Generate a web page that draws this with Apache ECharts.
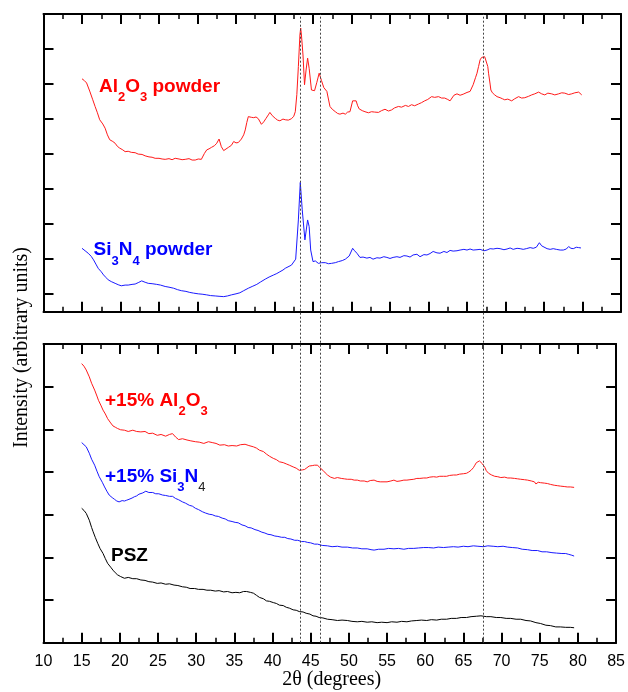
<!DOCTYPE html>
<html>
<head>
<meta charset="utf-8">
<script src="https://cdn.jsdelivr.net/npm/echarts@6/dist/echarts.min.js"></script>
<style>html,body{margin:0;padding:0;background:#fff}#c{width:628px;height:692px}</style>
</head>
<body>
<div id="c"></div>
<script>
// ---------- data (2θ in degrees, intensity in arbitrary units) ----------
const xTicks = [10,15,20,25,30,35,40,45,50,55,60,65,70,75,80,85];
const peakLines = [43.4, 45.9, 67.1];

const alPowderX = [15.0,15.3,15.6,16.0,16.4,16.7,17.0,17.3,17.7,18.0,18.3,18.6,19.0,19.3,19.6,19.9,20.3,20.6,21.0,21.4,21.9,22.3,22.8,23.2,23.7,24.1,24.5,25.0,25.4,25.8,26.3,26.7,27.1,27.6,28.0,28.4,28.9,29.3,29.7,30.1,30.5,30.9,31.2,31.5,31.8,32.2,32.5,32.8,33.1,33.4,33.6,34.0,34.4,34.7,35.0,35.3,35.7,36.0,36.2,36.4,36.6,37.0,37.3,37.6,37.9,38.3,38.6,38.9,39.2,39.4,39.7,40.1,40.4,40.7,41.1,41.4,41.8,42.2,42.5,42.7,42.9,43.1,43.3,43.4,43.5,43.7,43.9,44.1,44.3,44.5,44.8,45.2,45.5,45.8,46.1,46.4,46.8,47.2,47.5,47.9,48.2,48.5,48.9,49.2,49.5,49.8,50.0,50.15,50.6,50.8,51.0,51.4,51.75,52.2,52.6,53.0,53.5,53.9,54.35,54.8,55.2,55.6,56.1,56.5,57.0,57.4,57.8,58.2,58.7,59.1,59.5,59.9,60.4,60.8,61.3,61.7,62.1,62.5,62.8,63.0,63.3,63.7,64.1,64.5,65.0,65.4,65.8,66.1,66.3,66.5,66.7,66.9,67.1,67.3,67.5,67.7,67.8,68.0,68.1,68.3,68.6,68.9,69.3,69.6,69.9,70.3,70.8,71.2,71.7,72.1,72.5,73.0,73.4,73.8,74.3,74.7,75.1,75.5,76.0,76.4,76.9,77.3,77.7,78.2,78.6,79.0,79.5,79.9];
const alPowderY = [6.65,6.60,6.53,6.30,6.05,5.86,5.68,5.48,5.36,5.24,5.05,4.91,4.86,4.81,4.72,4.67,4.62,4.57,4.58,4.55,4.54,4.50,4.49,4.45,4.42,4.41,4.38,4.38,4.36,4.35,4.37,4.34,4.38,4.36,4.34,4.35,4.37,4.33,4.33,4.36,4.35,4.52,4.62,4.65,4.69,4.74,4.81,4.93,4.71,4.60,4.55,4.69,4.75,4.86,4.82,4.83,4.93,5.05,5.19,5.40,5.57,5.55,5.54,5.56,5.51,5.35,5.42,5.52,5.62,5.69,5.60,5.52,5.47,5.45,5.50,5.48,5.47,5.51,5.58,5.71,6.20,7.00,7.90,8.10,7.90,7.33,6.48,6.90,7.24,6.95,6.33,6.31,6.55,6.81,6.60,6.40,6.29,5.86,5.78,5.71,5.66,5.64,5.67,5.64,5.70,5.71,5.75,6.02,6.02,5.88,5.79,5.74,5.71,5.68,5.71,5.70,5.69,5.74,5.78,5.73,5.76,5.82,5.86,5.84,5.89,5.86,5.91,5.88,5.93,5.97,6.02,6.06,6.14,6.12,6.14,6.10,6.10,6.06,6.02,6.00,6.18,6.22,6.18,6.21,6.26,6.29,6.48,6.68,6.81,7.00,7.19,7.26,7.29,7.28,7.24,7.00,6.81,6.50,6.33,6.25,6.19,6.14,6.11,6.08,6.05,6.07,6.02,6.08,6.14,6.10,6.11,6.15,6.19,6.22,6.27,6.22,6.19,6.24,6.22,6.19,6.22,6.25,6.24,6.20,6.22,6.25,6.27,6.19];

const siPowderX = [15.0,15.4,15.8,16.2,16.5,16.8,17.1,17.5,17.8,18.1,18.4,18.8,19.3,19.7,20.1,20.6,21.0,21.5,21.9,22.3,22.75,23.2,23.6,24.1,24.7,25.2,25.8,26.3,26.9,27.4,27.9,28.5,29.0,29.5,30.1,30.6,31.2,31.7,32.3,32.8,33.4,33.9,34.4,35.0,35.5,36.0,36.6,37.1,37.7,38.2,38.8,39.3,39.9,40.3,40.7,41.1,41.4,41.6,42.2,42.75,43.1,43.35,43.6,43.95,44.3,44.5,44.7,45.0,45.3,45.7,46.1,46.6,47.0,47.4,47.9,48.3,48.8,49.2,49.7,50.15,50.4,50.7,51.1,51.5,52.0,52.4,52.8,53.3,53.7,54.2,54.6,55.0,55.4,55.9,56.3,56.8,57.2,57.6,58.0,58.5,58.9,59.4,59.8,60.2,60.6,61.1,61.5,62.0,62.4,62.8,63.2,63.7,64.1,64.6,65.0,65.4,65.8,66.3,66.7,67.2,67.6,68.0,68.4,68.9,69.3,69.8,70.2,70.6,71.0,71.5,71.9,72.3,72.7,73.2,73.6,74.0,74.4,74.7,74.9,75.4,75.8,76.2,76.6,77.1,77.5,77.9,78.2,78.5,78.8,79.2,79.5,79.8];
const siPowderY = [1.81,1.74,1.67,1.58,1.48,1.36,1.24,1.14,1.05,0.98,0.91,0.86,0.81,0.77,0.74,0.76,0.76,0.78,0.79,0.83,0.88,0.84,0.81,0.80,0.78,0.76,0.72,0.70,0.67,0.63,0.60,0.58,0.55,0.53,0.51,0.50,0.48,0.46,0.45,0.44,0.43,0.45,0.48,0.51,0.54,0.60,0.67,0.72,0.78,0.85,0.93,0.99,1.05,1.09,1.14,1.19,1.24,1.24,1.33,1.50,2.62,3.69,2.91,2.05,2.62,2.43,1.76,1.43,1.45,1.38,1.40,1.40,1.37,1.38,1.40,1.43,1.46,1.50,1.59,1.81,1.74,1.67,1.55,1.56,1.53,1.55,1.50,1.54,1.53,1.57,1.55,1.52,1.55,1.57,1.55,1.60,1.59,1.56,1.62,1.64,1.57,1.63,1.62,1.66,1.72,1.68,1.67,1.72,1.69,1.75,1.73,1.74,1.76,1.78,1.76,1.79,1.76,1.77,1.78,1.74,1.76,1.80,1.79,1.81,1.80,1.77,1.79,1.82,1.78,1.81,1.80,1.78,1.80,1.83,1.81,1.84,1.97,1.88,1.83,1.80,1.78,1.80,1.78,1.76,1.76,1.79,1.86,1.81,1.80,1.84,1.83,1.82];

const al15X = [15.0,15.3,15.6,16.0,16.3,16.7,17.0,17.2,17.5,17.8,18.1,18.4,18.8,19.1,19.4,19.7,20.1,20.6,21.1,21.7,22.2,22.75,23.3,23.8,24.3,24.9,25.4,26.0,26.5,26.9,27.3,27.7,28.2,28.8,29.3,29.9,30.4,31.0,31.6,32.1,32.6,33.1,33.7,34.2,34.7,35.3,35.8,36.4,36.9,37.5,37.9,38.3,38.8,39.2,39.6,40.1,40.5,40.9,41.4,41.8,42.2,42.7,43.1,43.5,43.9,44.2,44.5,44.8,45.2,45.5,45.9,46.2,46.6,46.9,47.2,47.6,48.1,48.5,49.0,49.4,49.8,50.3,50.7,51.1,51.5,52.0,52.4,52.8,53.3,53.7,54.1,54.6,55.0,55.5,55.9,56.3,56.7,57.2,57.6,58.0,58.5,58.9,59.3,59.8,60.2,60.6,61.1,61.5,61.9,62.4,62.8,63.2,63.7,64.1,64.5,65.0,65.4,65.7,66.0,66.3,66.5,66.7,66.9,67.1,67.3,67.5,67.8,68.0,68.3,68.7,69.1,69.5,69.9,70.4,70.8,71.2,71.7,72.1,72.5,73.0,73.4,73.9,74.3,74.5,74.8,75.1,75.6,76.0,76.4,76.9,77.3,77.7,78.2,78.6,79.0,79.5];
const al15Y = [6.54,6.48,6.39,6.23,6.08,5.92,5.78,5.68,5.57,5.45,5.36,5.25,5.15,5.08,5.05,5.02,4.99,4.98,4.95,4.98,4.95,4.94,4.95,4.90,4.91,4.86,4.88,4.84,4.88,4.90,4.82,4.76,4.78,4.75,4.73,4.71,4.70,4.67,4.71,4.69,4.67,4.63,4.64,4.61,4.62,4.61,4.64,4.65,4.62,4.59,4.56,4.51,4.48,4.42,4.37,4.32,4.29,4.24,4.22,4.19,4.16,4.12,4.09,4.04,4.05,4.06,4.10,4.14,4.15,4.16,4.16,4.10,4.04,3.98,3.93,3.88,3.85,3.87,3.85,3.84,3.83,3.83,3.81,3.81,3.79,3.79,3.77,3.80,3.81,3.78,3.77,3.77,3.77,3.79,3.81,3.78,3.79,3.81,3.81,3.82,3.83,3.85,3.85,3.86,3.86,3.88,3.89,3.88,3.90,3.90,3.90,3.92,3.93,3.93,3.95,3.96,3.97,4.00,4.04,4.10,4.16,4.22,4.26,4.26,4.24,4.19,4.11,4.03,3.97,3.93,3.90,3.89,3.87,3.88,3.86,3.86,3.85,3.84,3.83,3.82,3.81,3.79,3.77,3.72,3.76,3.75,3.74,3.73,3.71,3.69,3.68,3.67,3.66,3.65,3.65,3.64];

const si15X = [15.0,15.3,15.6,16.0,16.3,16.7,17.0,17.3,17.7,18.0,18.3,18.6,19.0,19.3,19.6,19.9,20.3,20.6,20.9,21.2,21.6,21.9,22.2,22.5,23.0,23.4,23.8,24.3,24.7,25.1,25.6,26.0,26.5,26.9,27.3,27.7,28.2,28.6,29.1,29.5,29.9,30.3,30.8,31.2,31.7,32.1,32.5,32.9,33.4,33.8,34.2,34.7,35.1,35.5,36.0,36.4,36.8,37.2,37.7,38.1,38.6,39.0,39.4,39.8,40.3,40.7,41.2,41.6,42.0,42.4,42.9,43.3,43.8,44.2,44.6,45.0,45.5,45.9,46.5,47.2,47.8,48.5,49.1,49.8,50.5,51.1,51.7,52.4,52.9,53.3,53.9,54.6,55.2,55.9,56.5,57.2,57.8,58.5,59.1,59.8,60.4,61.1,61.7,62.4,63.0,63.7,64.3,65.0,65.6,66.3,66.9,67.6,68.2,68.9,69.5,70.2,70.8,71.4,72.1,72.7,73.4,74.0,74.7,75.3,75.9,76.6,77.2,77.9,78.4,78.8,79.2,79.5];
const si15Y = [4.69,4.64,4.59,4.44,4.30,4.16,4.02,3.89,3.76,3.65,3.55,3.46,3.40,3.36,3.32,3.30,3.33,3.32,3.34,3.36,3.39,3.42,3.44,3.48,3.51,3.55,3.52,3.52,3.49,3.49,3.46,3.45,3.43,3.43,3.38,3.35,3.30,3.27,3.22,3.20,3.15,3.12,3.07,3.04,3.01,3.00,2.97,2.96,2.92,2.90,2.86,2.84,2.82,2.81,2.76,2.74,2.70,2.69,2.65,2.63,2.59,2.57,2.54,2.53,2.50,2.49,2.47,2.47,2.44,2.43,2.40,2.40,2.37,2.37,2.35,2.34,2.31,2.31,2.28,2.27,2.25,2.26,2.24,2.24,2.22,2.22,2.20,2.20,2.18,2.17,2.19,2.19,2.21,2.20,2.21,2.19,2.21,2.21,2.22,2.23,2.23,2.22,2.24,2.23,2.24,2.25,2.24,2.26,2.25,2.27,2.26,2.25,2.27,2.26,2.25,2.26,2.24,2.23,2.22,2.19,2.18,2.16,2.16,2.13,2.13,2.11,2.10,2.09,2.09,2.07,2.05,2.03];

const pszX = [15.0,15.3,15.6,16.0,16.3,16.5,16.8,17.1,17.4,17.8,18.1,18.4,18.8,19.1,19.4,19.7,20.1,20.6,21.1,21.7,22.2,22.75,23.3,23.8,24.3,24.9,25.4,26.0,26.5,27.1,27.6,28.2,28.7,29.2,29.8,30.3,30.9,31.4,31.9,32.5,33.0,33.6,34.1,34.7,35.2,35.7,36.2,36.6,37.1,37.5,37.9,38.3,38.8,39.2,39.6,40.1,40.5,40.9,41.4,41.8,42.2,42.7,43.1,43.5,44.0,44.4,44.9,45.3,45.7,46.1,46.6,47.2,47.8,48.5,49.1,49.8,50.4,51.1,51.7,52.4,53.0,53.7,54.3,55.0,55.6,56.3,56.9,57.6,58.2,58.9,59.5,60.2,60.8,61.5,62.1,62.8,63.4,64.1,64.7,65.4,66.0,66.7,67.3,68.0,68.6,69.3,69.9,70.6,71.2,71.9,72.5,73.2,73.8,74.5,75.1,75.8,76.4,77.1,77.7,78.4,79.0,79.5];
const pszY = [3.15,3.10,3.03,2.87,2.70,2.60,2.46,2.33,2.21,2.09,1.97,1.86,1.77,1.70,1.64,1.59,1.55,1.51,1.53,1.50,1.50,1.47,1.46,1.43,1.42,1.39,1.40,1.37,1.38,1.35,1.34,1.31,1.30,1.27,1.27,1.25,1.25,1.23,1.23,1.21,1.22,1.19,1.20,1.17,1.18,1.17,1.20,1.20,1.18,1.16,1.11,1.06,1.03,0.98,0.97,0.94,0.92,0.88,0.87,0.83,0.81,0.77,0.76,0.73,0.72,0.69,0.67,0.63,0.62,0.59,0.58,0.55,0.54,0.52,0.53,0.52,0.50,0.49,0.50,0.48,0.49,0.47,0.48,0.47,0.49,0.48,0.50,0.49,0.51,0.52,0.53,0.52,0.54,0.53,0.55,0.55,0.57,0.57,0.59,0.59,0.61,0.62,0.63,0.61,0.61,0.59,0.59,0.57,0.57,0.55,0.55,0.52,0.51,0.47,0.45,0.41,0.40,0.37,0.37,0.36,0.36,0.35];

// ---------- helpers ----------
const zip = (xs, ys) => xs.map((x, i) => [x, ys[i]]);
const BLACK = '#000';
const RED = '#ff1a1a';
const BLUE = '#1a1aff';

function xAxis(gridIndex, position, showLabels) {
  return {
    type: 'value', gridIndex, position, min: 10, max: 85, interval: 5,
    axisLine: { show: true, onZero: false, lineStyle: { color: BLACK, width: 2 } },
    axisTick: { show: true, inside: true, length: 10, lineStyle: { color: BLACK, width: 2 } },
    minorTick: { show: true, splitNumber: 2, length: 5, lineStyle: { color: BLACK, width: 1.5 } },
    splitLine: { show: false },
    axisLabel: { show: showLabels, color: BLACK, fontSize: 16, fontFamily: 'Liberation Sans, Arial, sans-serif', margin: 11 }
  };
}
function yAxis(gridIndex, position, min, max, ticks) {
  return {
    type: 'value', gridIndex, position, min, max,
    axisLine: { show: true, onZero: false, lineStyle: { color: BLACK, width: 2 } },
    axisTick: { show: true, inside: true, length: 10, customValues: ticks, lineStyle: { color: BLACK, width: 2 } },
    axisLabel: { show: false },
    splitLine: { show: false }
  };
}
function line(name, xs, ys, color, xi, yi) {
  return {
    type: 'line', name, data: zip(xs, ys), xAxisIndex: xi, yAxisIndex: yi,
    showSymbol: false, symbol: 'none', smooth: false, z: 3,
    lineStyle: { color, width: 1 }
  };
}
function label(x, y, text, rich, fill) {
  return {
    type: 'text', x, y, z: 10,
    style: { text, rich, fill, textAlign: 'left', verticalAlign: 'middle' }
  };
}
const SANS = 'Liberation Sans, Arial, sans-serif';
const SERIF = 'Liberation Serif, Times New Roman, serif';
function richFor(color) {
  return {
    m: { fontSize: 19, fontWeight: 'bold', fontFamily: SANS, fill: color },
    s: { fontSize: 13, fontWeight: 'bold', fontFamily: SANS, fill: color, padding: [22, 0, 0, 0] },
    k: { fontSize: 13, fontWeight: 'normal', fontFamily: SANS, fill: '#222', padding: [22, 0, 0, 0] }
  };
}

const topTicks = [0.5, 1.5, 2.5, 3.5, 4.5, 5.5, 6.5, 7.5];
const botTicks = [1, 2, 3, 4, 5, 6];

const chart = echarts.init(document.getElementById('c'), null, { renderer: 'canvas' });
chart.setOption({
  animation: false,
  backgroundColor: '#fff',
  grid: [
    { left: 43.5, right: 7, top: 14, height: 297.7 },
    { left: 43.5, right: 7, top: 344, height: 298.7 },
    { left: 43.5, right: 7, top: 14, height: 628.7 }
  ],
  xAxis: [
    xAxis(0, 'bottom', false),
    xAxis(0, 'top', false),
    xAxis(1, 'bottom', true),
    xAxis(1, 'top', false),
    { type: 'value', gridIndex: 2, min: 10, max: 85, show: false }
  ],
  yAxis: [
    yAxis(0, 'left', 0, 8.5, topTicks),
    yAxis(0, 'right', 0, 8.5, topTicks),
    yAxis(1, 'left', 0, 7, botTicks),
    yAxis(1, 'right', 0, 7, botTicks),
    { type: 'value', gridIndex: 2, min: 0, max: 1, show: false }
  ],
  series: [
    {
      type: 'line', data: [], xAxisIndex: 4, yAxisIndex: 4, z: 1,
      markLine: {
        silent: true, symbol: 'none', label: { show: false },
        lineStyle: { color: '#444', type: [2, 2], width: 1 },
        data: peakLines.map(v => ({ xAxis: v }))
      }
    },
    line('Al2O3 powder', alPowderX, alPowderY, RED, 0, 0),
    line('Si3N4 powder', siPowderX, siPowderY, BLUE, 0, 0),
    line('+15% Al2O3', al15X, al15Y, RED, 2, 2),
    line('+15% Si3N4', si15X, si15Y, BLUE, 2, 2),
    line('PSZ', pszX, pszY, BLACK, 2, 2)
  ],
  graphic: [
    label(99, 86.7, '{m|Al}{s|2}{m|O}{s|3}{m| powder}', richFor('#ff0000'), '#ff0000'),
    label(93.5, 250, '{m|Si}{s|3}{m|N}{s|4}{m| powder}', richFor('#0000ff'), '#0000ff'),
    label(105, 400.7, '{m|+15% Al}{s|2}{m|O}{s|3}', richFor('#ff0000'), '#ff0000'),
    label(105, 476.7, '{m|+15% Si}{s|3}{m|N}{k|4}', richFor('#0000ff'), '#0000ff'),
    label(111, 555.7, '{m|PSZ}', richFor('#000000'), '#000000'),
    {
      type: 'text', x: 331.7, y: 680,
      style: { text: '2θ (degrees)', font: '20px ' + SERIF, fill: '#000', textAlign: 'center', verticalAlign: 'middle' }
    },
    {
      type: 'text', x: 22, y: 347.5, rotation: Math.PI / 2,
      style: { text: 'Intensity (arbitrary units)', font: '20px ' + SERIF, fill: '#000', textAlign: 'center', verticalAlign: 'middle' }
    }
  ]
});
</script>
</body>
</html>
